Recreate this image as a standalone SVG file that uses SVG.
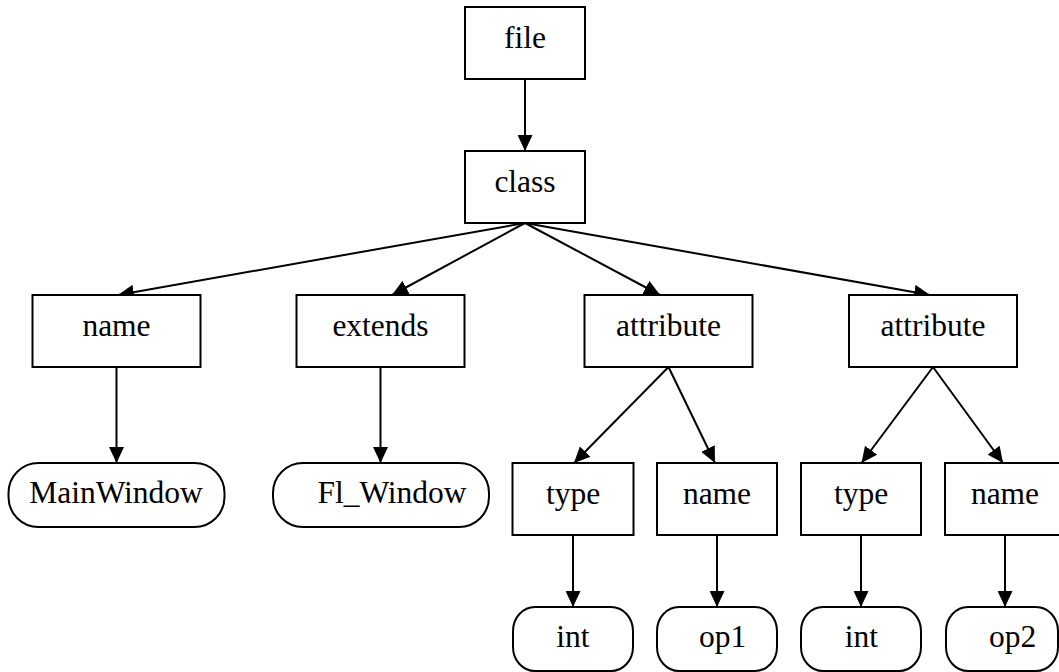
<svg xmlns="http://www.w3.org/2000/svg" width="1059" height="672" viewBox="0 0 1059 672">
  <style>
    .box { fill: #ffffff; stroke: #000000; stroke-width: 2; }
    .lbl { font-family: 'Liberation Serif', 'Times New Roman', Times, 'DejaVu Serif', serif; font-size: 31.5px; fill: #000000; text-anchor: middle; }
    .edge { fill: none; stroke: #000000; stroke-width: 2; marker-end: url(#arrow); }
  </style>
  <defs>
    <marker id="arrow" viewBox="0 0 16 15" refX="16" refY="7.5" markerWidth="16" markerHeight="15" markerUnits="userSpaceOnUse" orient="auto">
      <path d="M0,0 L16,7.5 L0,15 Z" fill="#000000"/>
    </marker>
  </defs>
  <rect width="1059" height="672" fill="#ffffff"/>

  <!-- connectors -->
  <g id="edges">
    <line class="edge" x1="525" y1="79" x2="525" y2="151"/>
    <line class="edge" x1="525" y1="223" x2="118" y2="295"/>
    <line class="edge" x1="525" y1="223" x2="392" y2="295"/>
    <line class="edge" x1="525" y1="223" x2="660" y2="295"/>
    <line class="edge" x1="525" y1="223" x2="930" y2="295"/>
    <line class="edge" x1="116.5" y1="367" x2="116.5" y2="463"/>
    <line class="edge" x1="380.5" y1="367" x2="380.5" y2="463"/>
    <line class="edge" x1="668.5" y1="367" x2="574" y2="463"/>
    <line class="edge" x1="668.5" y1="367" x2="715" y2="463"/>
    <line class="edge" x1="933" y1="367" x2="861.5" y2="463"/>
    <line class="edge" x1="933" y1="367" x2="1003" y2="463"/>
    <line class="edge" x1="573" y1="535" x2="573" y2="607"/>
    <line class="edge" x1="717" y1="535" x2="717" y2="607"/>
    <line class="edge" x1="861" y1="535" x2="861" y2="607"/>
    <line class="edge" x1="1005" y1="535" x2="1005" y2="607"/>
  </g>

  <!-- nodes -->
  <g id="n-file">
    <rect class="box" x="465" y="7" width="120" height="72"/>
    <text class="lbl" x="525" y="48">file</text>
  </g>
  <g id="n-class">
    <rect class="box" x="465" y="151" width="120" height="72"/>
    <text class="lbl" x="525" y="192">class</text>
  </g>
  <g id="n-name">
    <rect class="box" x="32.5" y="295" width="168" height="72"/>
    <text class="lbl" x="116.5" y="336">name</text>
  </g>
  <g id="n-extends">
    <rect class="box" x="296.5" y="295" width="168" height="72"/>
    <text class="lbl" x="380.5" y="336">extends</text>
  </g>
  <g id="n-attr1">
    <rect class="box" x="584.5" y="295" width="168" height="72"/>
    <text class="lbl" x="668.5" y="336">attribute</text>
  </g>
  <g id="n-attr2">
    <rect class="box" x="849" y="295" width="168" height="72"/>
    <text class="lbl" x="933" y="336">attribute</text>
  </g>
  <g id="n-mainwindow">
    <rect class="box" x="8.5" y="463" width="216" height="64" rx="30" ry="30"/>
    <text class="lbl" x="116" y="503">MainWindow</text>
  </g>
  <g id="n-flwindow">
    <rect class="box" x="273" y="463" width="216" height="64" rx="30" ry="30"/>
    <text class="lbl" x="392" y="503">Fl_Window</text>
  </g>
  <g id="n-type1">
    <rect class="box" x="512.5" y="463" width="121" height="72"/>
    <text class="lbl" x="573" y="504">type</text>
  </g>
  <g id="n-name1">
    <rect class="box" x="657" y="463" width="120" height="72"/>
    <text class="lbl" x="717" y="504">name</text>
  </g>
  <g id="n-type2">
    <rect class="box" x="801" y="463" width="120" height="72"/>
    <text class="lbl" x="861" y="504">type</text>
  </g>
  <g id="n-name2">
    <rect class="box" x="945" y="463" width="120" height="72"/>
    <text class="lbl" x="1005" y="504">name</text>
  </g>
  <g id="n-int1">
    <rect class="box" x="513" y="607" width="120" height="64" rx="22" ry="24"/>
    <text class="lbl" x="573" y="647">int</text>
  </g>
  <g id="n-op1">
    <rect class="box" x="657" y="607" width="120" height="64" rx="22" ry="24"/>
    <text class="lbl" x="722.5" y="647">op1</text>
  </g>
  <g id="n-int2">
    <rect class="box" x="801" y="607" width="120" height="64" rx="22" ry="24"/>
    <text class="lbl" x="861.5" y="647">int</text>
  </g>
  <g id="n-op2">
    <rect class="box" x="946" y="607" width="112" height="64" rx="22" ry="24"/>
    <text class="lbl" x="1012.5" y="647">op2</text>
  </g>
</svg>
